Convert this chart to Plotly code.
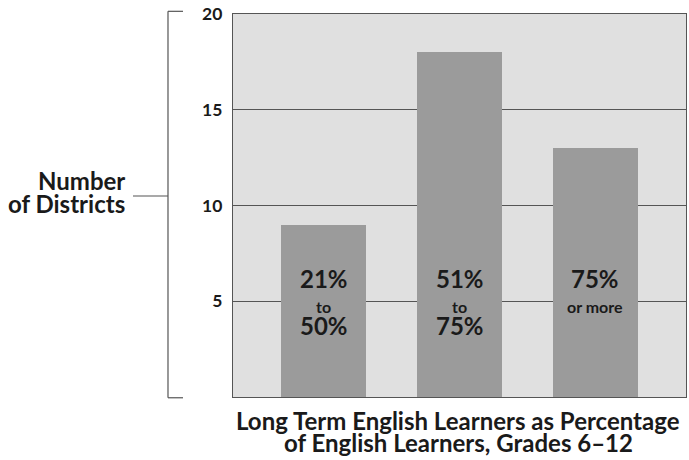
import plotly.graph_objects as go

categories = ["21% to 50%", "51% to 75%", "75% or more"]
districts = [9, 18, 13]
label_top = ["21%", "51%", "75%"]
label_mid = ["to", "to", "or more"]
label_bot = ["50%", "75%", ""]
y_ticks = [5, 10, 15, 20]
y_title = ["Number", "of Districts"]
x_title = ["Long Term English Learners as Percentage", "of English Learners, Grades 6–12"]

FONT = "Lato"
TXT = "#1a1a1a"

fig = go.Figure()
fig.add_trace(go.Bar(
    x=list(range(len(categories))), y=districts,
    width=0.63, marker=dict(color="#9b9b9b", line=dict(width=0)),
    hoverinfo="skip", showlegend=False,
))

ann = []
for i in range(len(categories)):
    ann.append(dict(x=i, y=6.2, xref="x", yref="y", text=label_top[i], showarrow=False,
                    font=dict(family=FONT, size=24, color=TXT, weight="bold")))
    ann.append(dict(x=i, y=4.72, xref="x", yref="y", text=label_mid[i], showarrow=False,
                    font=dict(family=FONT, size=16, color=TXT, weight="bold")))
    if label_bot[i]:
        ann.append(dict(x=i, y=3.72, xref="x", yref="y", text=label_bot[i], showarrow=False,
                        font=dict(family=FONT, size=24, color=TXT, weight="bold")))

for txt, yy in zip(y_title, [0.564, 0.504]):
    ann.append(dict(x=-0.2347, y=yy, xref="paper", yref="paper", xanchor="right", yanchor="middle",
                    text=txt, showarrow=False,
                    font=dict(family=FONT, size=24, color=TXT, weight="bold")))
for txt, yy in zip(x_title, [-0.0614, -0.120]):
    ann.append(dict(x=0.497, y=yy, xref="paper", yref="paper", xanchor="center", yanchor="middle",
                    text=txt, showarrow=False,
                    font=dict(family=FONT, size=24, color=TXT, weight="bold")))

line = dict(color="#555555", width=1.2)
shapes = [
    dict(type="line", xref="paper", yref="paper", x0=-0.1435, x1=-0.1435, y0=-0.002, y1=1.007, line=line),
    dict(type="line", xref="paper", yref="paper", x0=-0.1435, x1=-0.1104, y0=1.007, y1=1.007, line=line),
    dict(type="line", xref="paper", yref="paper", x0=-0.1435, x1=-0.1104, y0=-0.002, y1=-0.002, line=line),
    dict(type="line", xref="paper", yref="paper", x0=-0.2208, x1=-0.1435, y0=0.5248, y1=0.5248, line=line),
]

fig.update_layout(
    width=689, height=460,
    margin=dict(l=233, r=3, t=14, b=63),
    paper_bgcolor="white", plot_bgcolor="#e0e0e0",
    annotations=ann, shapes=shapes,
    xaxis=dict(range=[-0.667, 2.667], showticklabels=False, showgrid=False, zeroline=False,
               showline=True, linecolor="#555555", linewidth=1.2, mirror=True, fixedrange=True),
    yaxis=dict(range=[0, 20], tickvals=y_ticks, showgrid=True, gridcolor="#555555", gridwidth=1,
               zeroline=False, showline=True, linecolor="#555555", linewidth=1.2, mirror=True,
               ticks="", ticklabelstandoff=6,
               tickfont=dict(family=FONT, size=17.5, color=TXT, weight="bold")),
    bargap=0,
)

fig.write_html("out.html", config={"displayModeBar": False, "staticPlot": True},
               post_script="document.body.style.margin='0';document.body.style.overflow='hidden';")
